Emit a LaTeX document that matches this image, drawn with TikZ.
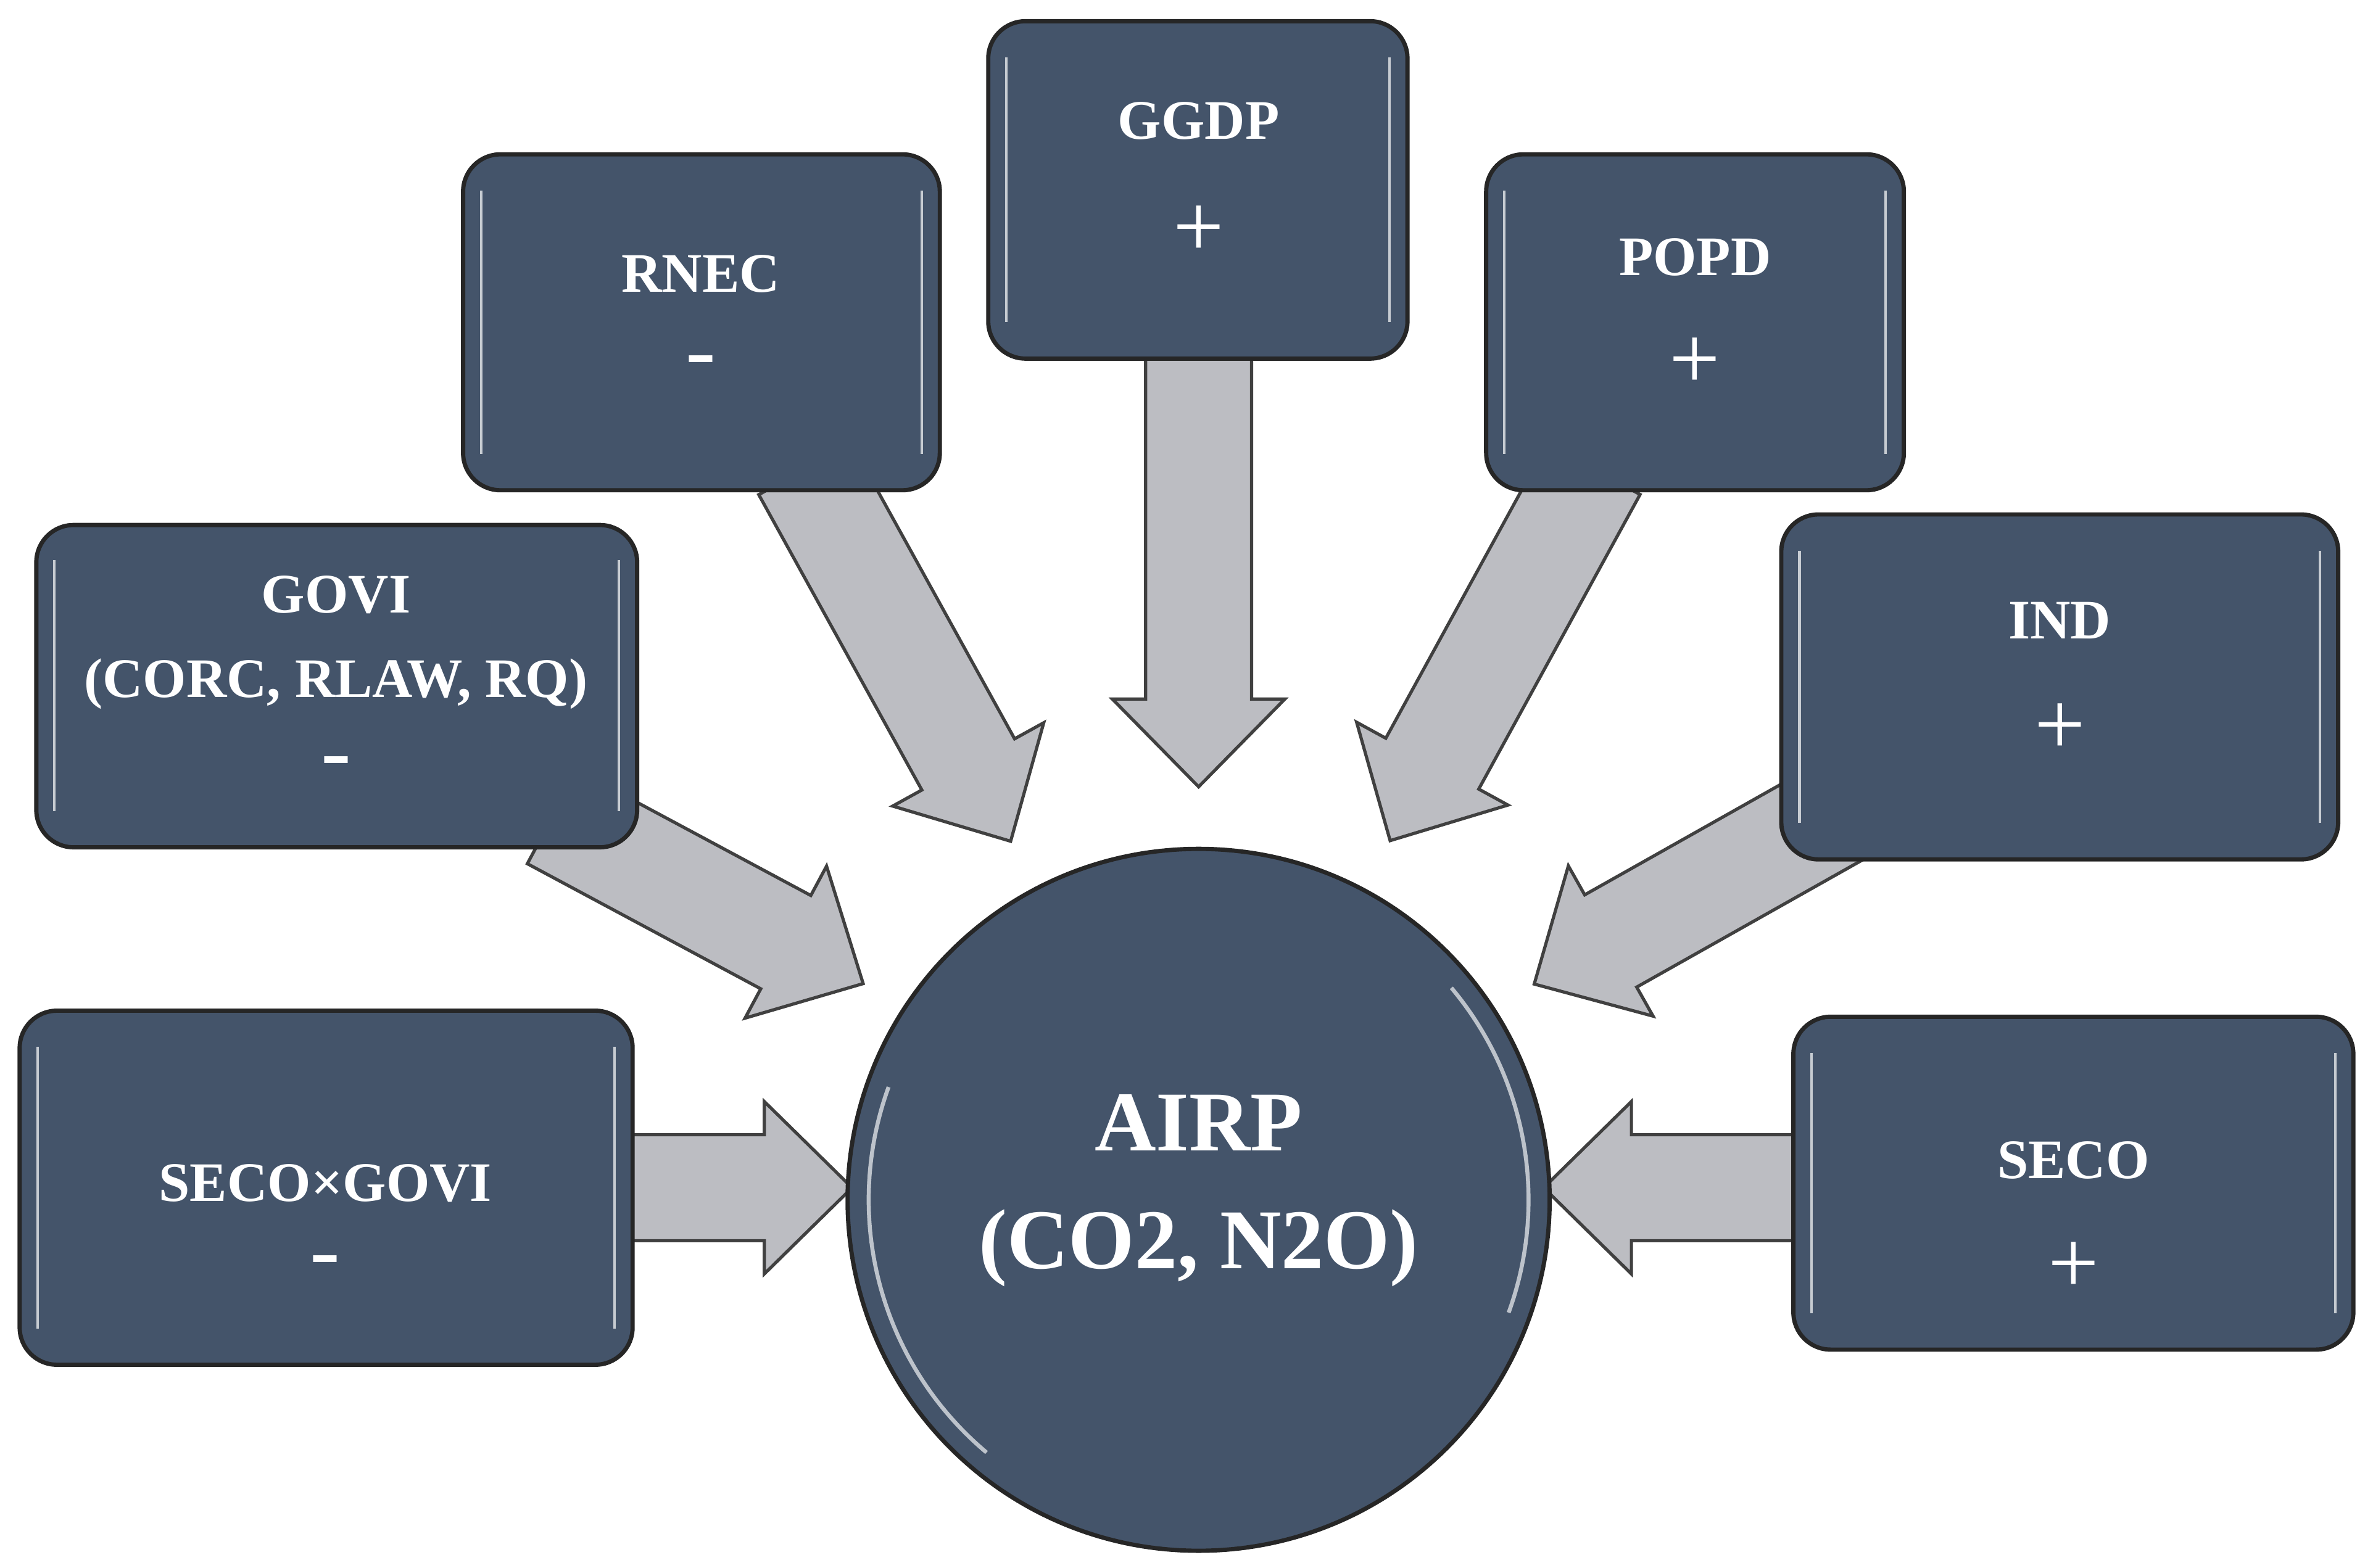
\documentclass[tikz,border=0pt]{standalone}
\usepackage{fontspec}
\setmainfont{Liberation Serif}
\begin{document}
\begin{tikzpicture}[x=0.02cm,y=-0.02cm]
\definecolor{boxc}{RGB}{68,84,106}
\definecolor{arrc}{RGB}{188,189,194}
\tikzset{
 box/.style={draw=black!85,line width=1.6pt,fill=boxc,rounded corners=14pt,inner sep=0pt},
 arr/.style={draw=black!75,line width=1.2pt,fill=arrc,line join=miter},
 lab/.style={text=white,font=\bfseries\fontsize{21}{25}\selectfont,inner sep=0pt},
 sgn/.style={text=white,font=\fontsize{34}{36}\selectfont,inner sep=0pt},
}
\newcommand\blockarr[3]{%
 \draw[arr,shift={(#1)},rotate=#2] (0,-35)--(#3-58,-35)--(#3-58,-57)--(#3,0)--(#3-58,57)--(#3-58,35)--(0,35)--cycle;}
\useasboundingbox (0,0) rectangle (1568,1036);
% arrows
\blockarr{792,220}{-90}{300}
\blockarr{532,310}{-61.1}{281}
\blockarr{1053,310}{-118.7}{280}
\blockarr{365,540}{-28.2}{233}
\blockarr{1215,537}{-150.6}{231}
\blockarr{405,785}{0}{158}
\blockarr{1198,785}{180}{178}
% boxes
\draw[box] (653,14) rectangle (930,237); \coordinate (ggdp) at (791.5,125);
\draw[box] (306,102) rectangle (621,324); \coordinate (rnec) at (463,213);
\draw[box] (982,102) rectangle (1258,324); \coordinate (popd) at (1120,213);
\draw[box] (24,347) rectangle (421,560); \coordinate (govi) at (222,453);
\draw[box] (1177,340) rectangle (1545,568); \coordinate (ind) at (1361,454);
\draw[box] (13,668) rectangle (418,902); \coordinate (sxg) at (215,785);
\draw[box] (1185,672) rectangle (1555,892); \coordinate (seco) at (1370,782);
% inner bevel lines
\foreach \xa/\xb/\ya/\yb in {665/918/28/223, 318/609/116/310, 994/1246/116/310, 36/409/360/546, 1189/1533/354/554, 25/406/682/888, 1197/1543/686/878}{
 \draw[white!70!boxc,line width=1pt] (\xa,\ya+10)--(\xa,\yb-10) (\xb,\ya+10)--(\xb,\yb-10);
}
% circle
\node[circle,draw=black!85,line width=1.6pt,fill=boxc,minimum size=9.28cm,inner sep=0pt] (airp) at (792,793) {};
\draw[white!65!boxc,line width=1.5pt] (792,793) ++(130:218) arc (130:200:218);
\draw[white!65!boxc,line width=1.5pt] (792,793) ++(-40:218) arc (-40:20:218);
% texts
\node[lab] (t1) at (792,80) {GGDP}; \node[sgn] (s1) at (792,153) {+};
\node[lab] (t2) at (463,181) {RNEC}; \node[sgn] (s2) at (463,243) {-};
\node[lab] (t3) at (1120,170) {POPD}; \node[sgn] (s3) at (1120,240) {+};
\node[lab] (t4) at (222,393) {GOVI}; \node[lab] (t4b) at (222,452) {(CORC, RLAW, RQ)}; \node[sgn] (s4) at (222,508) {-};
\node[lab] (t5) at (1361,410) {IND}; \node[sgn] (s5) at (1361,482) {+};
\node[lab] (t6) at (215,782) {SECO×GOVI}; \node[sgn] (s6) at (215,838) {-};
\node[lab] (t7) at (1370,767) {SECO}; \node[sgn] (s7) at (1370,838) {+};
\node[lab,font=\bfseries\fontsize{32}{38}\selectfont] (ta) at (792,742) {AIRP};
\node[lab,font=\bfseries\fontsize{32}{38}\selectfont] (tb) at (792,825) {(CO2, N2O)};
\end{tikzpicture}
\end{document}
